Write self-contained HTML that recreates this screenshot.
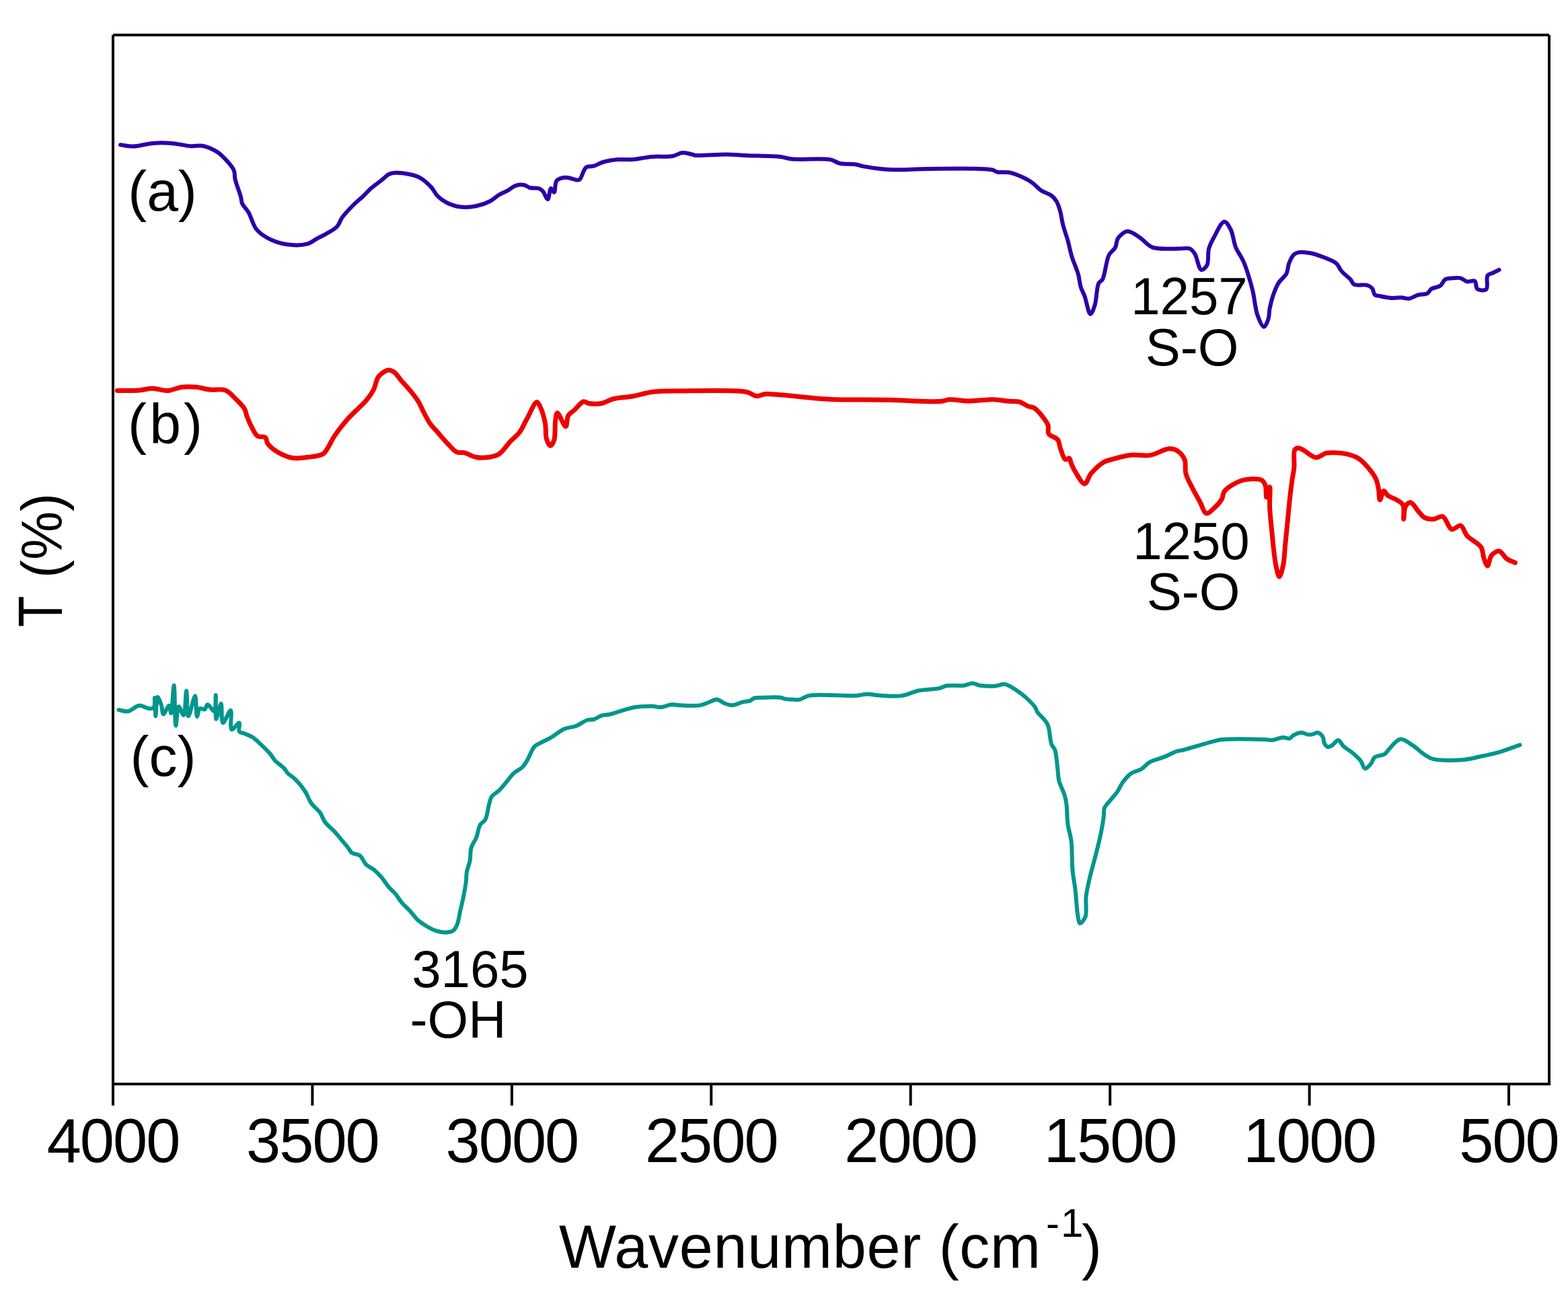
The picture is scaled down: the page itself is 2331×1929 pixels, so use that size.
<!DOCTYPE html>
<html><head><meta charset="utf-8"><title>FTIR spectra</title>
<style>html,body{margin:0;padding:0;background:#fff;overflow:hidden;width:2331px;height:1929px;} svg{display:block;} text{font-family:"Liberation Sans", Arial, sans-serif;fill:#000;}</style>
</head><body>
<svg width="2331" height="1929" viewBox="0 0 2331 1929">
<rect width="2331" height="1929" fill="#fff"/>
<path d="M179.0,215.3 C185.4,216.1 191.1,217.8 198.1,217.6 C206.7,217.4 217.1,213.7 226.7,212.9 C236.2,212.1 245.7,212.2 255.2,212.9 C264.8,213.6 275.5,216.7 283.8,217.2 C290.2,217.6 295.1,215.6 301.0,216.7 C307.8,217.9 316.5,222.0 321.9,225.2 C325.9,227.6 328.0,229.5 331.4,232.9 C336.3,237.8 344.8,246.5 347.6,252.9 C349.6,257.5 348.3,261.1 349.5,266.2 C351.2,273.6 356.4,286.2 358.1,292.9 C359.1,296.8 358.6,299.1 360.0,302.4 C361.8,306.7 366.4,310.4 369.5,315.7 C373.5,322.5 375.8,334.0 381.0,340.5 C385.6,346.3 391.3,350.2 398.1,353.8 C406.1,358.1 416.9,361.9 426.7,363.3 C436.6,364.7 448.9,364.7 457.1,362.4 C463.3,360.7 467.6,356.3 472.4,353.8 C476.5,351.7 479.7,350.5 483.8,348.1 C489.0,345.1 496.8,341.2 501.0,336.7 C504.7,332.8 505.3,327.9 508.6,323.3 C512.6,317.7 519.7,310.4 524.0,306.0 C526.8,303.1 528.8,301.3 531.4,299.0 C534.1,296.5 537.0,294.3 540.0,291.5 C543.6,288.1 547.1,283.8 551.4,280.0 C556.4,275.6 563.7,270.6 568.6,266.7 C572.3,263.8 574.7,260.6 578.1,259.0 C581.1,257.5 583.8,257.0 587.6,256.8 C593.2,256.5 602.2,257.7 608.6,259.0 C614.1,260.2 618.8,261.1 623.8,263.8 C629.7,267.0 636.4,273.1 641.0,278.1 C645.0,282.4 646.7,287.6 650.5,291.4 C654.3,295.2 658.6,298.4 663.8,301.0 C669.8,304.0 677.6,306.7 684.8,307.6 C692.2,308.5 700.3,307.8 707.6,306.3 C714.8,304.9 722.6,302.1 728.6,299.0 C733.8,296.3 737.4,292.2 741.9,289.5 C746.2,286.9 751.0,285.2 755.2,282.9 C759.2,280.7 762.5,277.1 766.7,275.8 C770.8,274.5 776.3,274.4 780.0,275.2 C783.0,275.8 784.6,278.2 787.6,279.0 C791.4,280.0 797.6,278.8 801.0,280.0 C803.4,280.8 804.9,281.9 806.7,283.8 C809.4,286.6 812.3,296.5 814.3,296.2 C816.5,295.9 816.9,280.4 819.0,280.0 C820.4,279.7 822.5,286.0 823.8,285.7 C825.8,285.2 824.4,272.2 827.6,268.6 C830.5,265.3 836.2,264.1 841.0,263.8 C846.3,263.5 854.4,267.6 858.1,267.6 C859.8,267.6 860.6,267.7 861.9,266.7 C864.9,264.4 867.1,251.7 871.4,248.6 C874.6,246.3 879.0,247.8 882.9,246.7 C887.2,245.4 891.1,242.5 896.2,241.0 C902.7,239.1 911.5,237.7 919.0,237.1 C926.1,236.5 932.5,237.6 940.0,237.1 C948.8,236.5 958.8,233.8 968.6,232.9 C978.8,232.0 991.7,233.5 1000.0,232.0 C1005.8,231.0 1009.5,227.5 1014.3,227.1 C1019.0,226.7 1024.9,228.6 1028.6,229.4 C1030.9,229.9 1031.5,230.6 1034.3,230.9 C1042.2,231.8 1066.5,229.3 1080.0,229.4 C1090.6,229.5 1097.7,230.4 1108.6,230.9 C1123.2,231.6 1147.5,231.4 1160.0,232.9 C1167.2,233.8 1169.6,235.5 1177.0,236.3 C1190.4,237.7 1221.7,234.6 1234.3,237.1 C1240.8,238.4 1243.2,241.7 1248.6,242.9 C1255.2,244.4 1265.1,243.4 1271.4,244.3 C1275.9,245.0 1278.1,246.2 1282.9,247.1 C1290.8,248.6 1304.1,250.5 1314.3,251.4 C1324.0,252.2 1334.6,252.4 1342.9,252.3 C1349.3,252.2 1351.8,251.6 1360.0,251.4 C1381.2,250.9 1458.0,249.1 1474.3,252.3 C1478.9,253.2 1479.5,255.0 1482.9,255.7 C1487.6,256.7 1494.4,255.3 1500.0,256.3 C1505.8,257.3 1511.5,259.5 1517.1,261.9 C1522.9,264.4 1529.1,267.8 1534.3,271.4 C1539.2,274.8 1542.8,279.7 1547.6,282.9 C1552.3,286.1 1558.9,287.5 1562.9,290.5 C1566.2,293.0 1568.4,295.5 1570.5,299.0 C1573.0,303.2 1574.7,308.9 1576.2,314.3 C1577.9,320.2 1578.3,326.6 1580.0,333.3 C1582.0,341.1 1585.3,350.0 1587.6,358.1 C1589.8,365.9 1590.9,373.1 1593.3,381.0 C1595.9,389.6 1600.6,399.4 1602.9,407.6 C1604.8,414.4 1604.9,421.0 1606.7,426.7 C1608.2,431.6 1610.4,434.7 1612.4,440.0 C1615.1,447.3 1618.0,466.5 1621.0,466.7 C1623.2,466.9 1625.8,458.9 1627.6,453.3 C1630.3,445.0 1630.1,427.2 1633.3,421.0 C1634.9,417.9 1637.2,418.3 1639.0,415.2 C1642.8,408.5 1644.3,387.4 1648.6,379.0 C1651.3,373.7 1655.9,371.8 1658.1,367.6 C1660.2,363.5 1659.3,358.1 1661.9,354.3 C1664.7,350.1 1670.9,344.6 1675.2,343.8 C1678.5,343.2 1681.6,345.2 1684.8,346.7 C1688.6,348.5 1692.1,351.3 1696.2,354.3 C1701.4,358.0 1705.9,364.8 1713.3,367.6 C1723.4,371.3 1743.1,369.3 1753.3,369.5 C1759.6,369.6 1764.6,367.9 1768.6,369.5 C1771.9,370.9 1773.9,373.5 1776.2,377.1 C1779.8,382.6 1781.8,399.9 1785.7,401.0 C1788.2,401.7 1792.3,397.8 1794.3,394.3 C1797.3,389.0 1795.1,376.9 1797.1,369.5 C1798.9,363.1 1801.5,358.4 1804.8,352.4 C1808.8,345.2 1815.4,329.7 1820.0,329.5 C1823.4,329.3 1826.9,336.0 1829.5,341.0 C1833.1,347.8 1833.7,359.4 1837.1,367.6 C1840.2,375.2 1845.0,380.2 1848.6,388.6 C1853.5,400.0 1858.4,416.8 1861.9,430.5 C1865.2,443.4 1865.8,458.6 1869.5,468.6 C1872.1,475.7 1876.1,485.7 1879.0,485.7 C1881.4,485.7 1884.3,477.8 1885.7,473.3 C1887.2,468.6 1886.5,463.5 1887.6,458.1 C1888.9,451.6 1891.0,443.7 1893.3,437.1 C1895.5,431.0 1897.7,425.1 1901.0,420.0 C1904.2,415.0 1909.9,411.6 1912.4,406.7 C1914.8,402.0 1914.3,396.2 1916.2,391.4 C1918.1,386.7 1920.7,380.8 1923.8,378.1 C1926.0,376.1 1928.3,375.4 1931.4,374.9 C1935.9,374.2 1942.5,375.0 1948.6,376.2 C1955.7,377.6 1964.6,381.0 1971.4,383.8 C1977.1,386.2 1982.8,388.0 1986.7,391.4 C1990.2,394.5 1991.1,399.2 1994.3,402.9 C1997.9,407.2 2004.2,411.4 2007.6,415.2 C2010.1,417.9 2010.3,421.3 2013.3,422.9 C2017.5,425.1 2027.6,422.3 2032.4,423.8 C2035.7,424.8 2038.1,426.3 2040.0,428.6 C2042.0,431.0 2041.7,436.2 2043.8,438.1 C2045.7,439.7 2048.3,439.4 2051.4,440.0 C2056.0,441.0 2063.0,442.5 2068.6,442.9 C2073.8,443.2 2079.2,442.1 2083.8,442.3 C2087.6,442.5 2090.6,444.2 2094.3,443.8 C2098.8,443.3 2103.8,439.4 2108.6,438.1 C2113.0,436.9 2118.6,438.0 2121.9,436.2 C2124.6,434.7 2125.0,431.3 2127.6,429.5 C2130.9,427.2 2137.4,427.3 2141.0,424.8 C2144.3,422.4 2145.4,417.1 2148.6,415.2 C2151.7,413.3 2156.2,413.6 2160.0,413.3 C2163.8,413.0 2167.9,412.4 2171.4,413.3 C2174.9,414.2 2177.5,417.8 2181.0,418.5 C2184.5,419.3 2189.9,416.0 2192.4,417.7 C2195.0,419.5 2193.5,427.4 2196.2,429.5 C2199.0,431.6 2206.8,432.3 2209.5,429.9 C2212.8,427.0 2208.8,413.4 2211.4,409.5 C2213.1,407.0 2216.3,407.0 2219.0,405.7 C2222.0,404.2 2225.4,402.6 2228.6,401.0" fill="none" stroke="#2d00a8" stroke-width="6" stroke-linejoin="round" stroke-linecap="round"/>
<path d="M174.3,580.5 C185.4,580.3 198.1,580.7 207.6,579.9 C214.9,579.3 220.1,577.2 226.7,577.2 C234.0,577.2 242.1,580.9 249.5,580.5 C256.7,580.1 263.5,576.2 270.5,575.3 C277.4,574.5 284.5,574.7 291.4,575.3 C298.4,575.9 305.2,578.3 312.4,579.1 C319.8,579.9 328.9,577.5 335.2,579.9 C340.7,582.0 344.2,586.7 348.6,591.0 C353.7,595.9 360.9,602.9 363.8,608.1 C365.7,611.5 365.4,614.1 366.7,617.6 C368.4,622.1 370.7,627.9 373.3,632.9 C376.0,638.1 378.8,645.4 382.9,648.1 C386.2,650.3 391.8,648.0 394.3,650.0 C396.7,651.9 395.9,656.4 398.1,659.5 C401.0,663.5 406.1,667.7 411.4,671.0 C417.7,674.9 426.5,679.1 434.3,680.5 C441.8,681.8 449.5,680.4 457.1,679.5 C464.8,678.6 474.8,678.0 480.0,674.8 C483.8,672.5 485.1,669.0 487.6,665.2 C490.8,660.4 493.0,654.3 497.1,648.1 C502.5,640.0 510.4,630.1 518.1,621.4 C526.2,612.3 538.2,602.7 544.8,594.8 C549.4,589.2 552.3,585.1 555.2,579.5 C558.4,573.4 558.9,564.5 562.9,559.5 C566.5,555.0 572.8,550.6 577.1,550.0 C580.2,549.6 582.9,551.0 585.7,552.9 C589.6,555.5 593.1,561.6 597.1,566.2 C601.4,571.1 606.3,576.2 610.5,581.4 C614.6,586.4 618.7,591.5 621.9,596.7 C624.9,601.6 626.8,606.7 629.5,611.9 C632.4,617.5 635.4,623.8 639.0,629.0 C642.4,633.9 646.4,637.7 650.5,642.4 C655.2,647.8 660.7,654.4 665.7,659.5 C670.2,664.1 674.4,669.8 679.0,671.9 C682.7,673.5 686.4,671.9 690.5,672.9 C695.7,674.1 701.6,678.4 707.6,679.5 C713.7,680.6 720.8,680.4 726.7,679.5 C732.1,678.7 737.1,677.9 741.9,674.8 C748.0,670.9 753.6,661.4 759.0,655.7 C763.7,650.8 768.4,647.7 772.4,642.4 C776.8,636.5 779.7,628.6 783.8,621.4 C788.2,613.7 794.5,597.7 798.1,597.6 C800.1,597.5 801.4,601.2 802.9,604.3 C805.6,609.8 808.9,620.8 810.5,629.0 C812.0,636.7 810.6,645.9 812.4,651.9 C813.7,656.2 816.1,662.3 818.1,662.4 C819.9,662.5 822.5,657.7 823.8,653.8 C826.0,647.2 824.5,632.5 825.7,625.2 C826.4,620.5 826.8,614.1 828.6,613.8 C831.1,613.4 838.3,634.2 841.0,633.8 C843.3,633.4 842.3,621.9 844.8,617.6 C847.0,613.9 850.9,612.1 854.3,609.0 C858.4,605.3 863.6,597.5 867.6,596.7 C870.3,596.2 872.0,598.9 875.2,599.5 C880.1,600.4 888.2,600.6 894.3,599.5 C900.3,598.4 904.9,594.6 911.4,592.9 C919.6,590.8 930.3,590.7 940.0,589.0 C950.3,587.2 959.7,583.7 971.4,582.3 C985.8,580.6 1002.2,581.2 1020.0,580.9 C1041.5,580.6 1074.9,580.1 1091.4,580.9 C1100.1,581.3 1105.6,581.4 1111.4,582.9 C1116.3,584.2 1119.9,588.2 1124.3,588.6 C1128.5,589.0 1132.5,586.1 1137.1,585.7 C1142.4,585.2 1146.8,585.8 1154.3,586.3 C1168.7,587.2 1201.3,591.1 1217.1,592.3 C1226.6,593.0 1230.0,593.4 1240.0,593.7 C1258.6,594.3 1295.6,593.7 1320.0,594.3 C1340.6,594.8 1362.3,596.4 1377.1,596.6 C1386.4,596.7 1393.7,597.0 1400.0,596.3 C1404.5,595.8 1406.7,594.0 1411.4,593.7 C1418.7,593.2 1429.8,595.9 1440.0,596.0 C1451.6,596.1 1466.2,593.4 1477.1,593.7 C1485.7,593.9 1493.1,595.7 1500.0,596.3 C1505.6,596.8 1510.4,595.8 1515.2,597.1 C1519.9,598.4 1524.5,602.1 1528.6,603.8 C1532.0,605.1 1534.9,604.6 1538.1,606.7 C1543.0,609.8 1549.8,618.9 1553.3,623.8 C1555.6,627.0 1557.1,629.2 1558.1,632.4 C1559.2,636.1 1557.0,641.4 1559.0,644.8 C1561.3,648.6 1569.5,649.6 1572.4,653.3 C1575.0,656.7 1574.6,661.3 1576.2,665.7 C1578.2,671.0 1580.7,681.5 1583.8,682.9 C1585.5,683.7 1588.1,680.3 1589.5,681.0 C1591.1,681.8 1591.2,685.7 1592.4,688.6 C1594.1,692.5 1596.1,697.3 1599.0,701.9 C1602.5,707.4 1608.4,719.2 1612.4,719.0 C1616.0,718.8 1617.8,708.7 1621.9,703.8 C1626.9,697.9 1635.1,690.1 1641.0,686.7 C1645.0,684.4 1647.7,684.2 1652.4,682.9 C1659.7,680.8 1671.4,677.2 1681.0,676.2 C1690.4,675.2 1700.1,678.1 1709.5,676.6 C1719.2,675.0 1730.7,667.0 1738.1,666.7 C1742.7,666.5 1746.0,667.4 1749.5,669.5 C1753.8,672.1 1758.7,677.5 1761.0,682.9 C1763.5,688.8 1761.1,697.0 1762.9,703.8 C1764.8,711.0 1768.9,717.9 1772.4,724.8 C1775.9,731.8 1780.2,739.1 1783.8,745.7 C1787.1,751.7 1789.4,761.9 1793.3,762.9 C1796.6,763.7 1801.2,758.4 1804.8,755.2 C1808.9,751.6 1813.6,746.4 1816.2,741.9 C1818.3,738.2 1817.7,733.8 1820.0,730.5 C1822.5,726.8 1827.0,723.7 1831.4,721.0 C1836.4,717.9 1842.1,714.7 1848.6,713.3 C1856.4,711.6 1869.9,710.6 1875.2,713.3 C1878.4,714.9 1879.7,717.7 1881.0,721.0 C1882.8,725.6 1881.7,738.9 1882.9,739.0 C1884.0,739.1 1886.7,723.7 1887.6,723.8 C1888.9,724.0 1887.1,743.3 1887.6,754.3 C1888.2,767.2 1890.3,785.0 1891.4,796.2 C1892.1,803.8 1892.5,808.3 1893.3,815.2 C1894.3,823.4 1895.4,834.3 1897.1,841.9 C1898.4,847.7 1900.2,857.1 1901.9,857.1 C1903.7,857.1 1906.2,846.5 1907.6,840.0 C1909.4,831.8 1909.5,821.6 1910.5,811.4 C1911.7,799.6 1913.0,786.0 1914.3,773.3 C1915.6,760.6 1916.8,746.3 1918.1,735.2 C1919.1,726.6 1920.0,719.5 1921.0,712.4 C1921.9,706.3 1923.2,701.6 1923.8,695.2 C1924.6,687.3 1922.3,672.8 1924.8,668.6 C1925.9,666.7 1927.7,665.9 1929.5,665.7 C1931.7,665.5 1934.1,667.1 1937.1,668.6 C1942.1,671.0 1950.1,679.6 1956.2,680.0 C1961.5,680.3 1966.4,674.5 1971.4,673.3 C1975.9,672.3 1980.0,672.6 1984.8,672.8 C1990.6,673.1 1997.9,673.7 2003.8,675.2 C2009.2,676.6 2014.3,678.1 2019.0,681.0 C2023.9,684.0 2028.2,688.5 2032.4,693.3 C2037.2,698.7 2042.9,706.1 2045.7,712.4 C2048.0,717.5 2048.5,722.5 2049.5,727.6 C2050.4,732.7 2050.1,742.7 2051.4,742.9 C2052.7,743.1 2054.9,729.8 2057.1,729.5 C2058.8,729.2 2060.3,734.2 2062.9,736.2 C2066.2,738.8 2072.3,740.4 2076.2,742.9 C2079.8,745.2 2083.8,746.8 2085.7,750.5 C2088.2,755.4 2086.0,771.4 2086.7,771.4 C2087.3,771.4 2087.0,756.6 2089.5,752.4 C2091.3,749.4 2094.4,746.4 2097.1,746.7 C2100.7,747.1 2104.9,756.0 2108.6,760.0 C2111.9,763.5 2114.3,767.6 2118.1,769.5 C2121.9,771.4 2127.0,771.7 2131.4,771.4 C2135.9,771.1 2140.8,766.2 2144.8,767.6 C2150.0,769.5 2153.0,785.2 2158.1,786.7 C2162.1,787.9 2167.7,779.9 2171.4,781.0 C2175.5,782.3 2176.7,791.3 2181.0,796.2 C2186.3,802.2 2197.9,807.0 2201.9,813.3 C2204.9,818.1 2204.0,823.8 2205.7,828.6 C2207.3,833.0 2209.6,841.1 2211.4,841.0 C2213.4,840.9 2214.0,829.4 2217.1,825.7 C2219.9,822.3 2225.0,818.5 2228.6,819.0 C2232.6,819.5 2235.8,827.6 2240.0,830.5 C2243.8,833.2 2248.3,834.3 2252.4,836.2" fill="none" stroke="#ee0000" stroke-width="7" stroke-linejoin="round" stroke-linecap="round"/>
<path d="M176.4,1055.0 C180.9,1055.7 185.3,1057.8 190.0,1057.1 C195.5,1056.2 201.6,1049.1 207.1,1048.6 C212.0,1048.2 217.4,1052.7 221.4,1052.9 C224.2,1053.0 227.1,1053.1 228.6,1051.4 C230.8,1049.0 229.6,1037.1 230.0,1037.1 C230.6,1037.1 230.7,1064.3 231.4,1064.3 C232.1,1064.3 232.3,1036.0 234.3,1035.7 C235.7,1035.5 238.6,1044.2 240.0,1048.6 C241.4,1052.8 241.1,1061.1 242.9,1061.4 C244.8,1061.7 249.5,1048.3 251.4,1048.6 C253.1,1048.9 253.4,1060.1 254.3,1060.0 C256.0,1059.9 257.5,1018.6 258.6,1018.6 C260.0,1018.6 259.8,1078.5 261.4,1078.6 C262.5,1078.7 263.1,1050.5 265.7,1050.0 C267.5,1049.7 271.1,1063.3 272.9,1062.9 C275.8,1062.3 275.9,1026.4 277.1,1026.4 C278.3,1026.4 277.6,1064.0 280.0,1064.3 C282.2,1064.6 287.9,1034.1 290.0,1034.3 C292.1,1034.5 291.2,1064.8 292.9,1065.0 C294.0,1065.1 294.7,1054.3 297.1,1052.9 C298.9,1051.9 302.4,1055.1 304.3,1054.3 C306.3,1053.4 306.7,1047.3 308.6,1047.1 C311.1,1046.8 316.5,1057.9 318.6,1057.1 C321.4,1056.1 320.2,1032.9 320.7,1032.9 C321.3,1032.9 319.7,1068.4 321.4,1068.6 C322.8,1068.8 326.9,1045.5 328.6,1045.7 C330.4,1045.9 328.6,1073.7 331.4,1074.3 C333.8,1074.9 340.7,1055.1 342.9,1055.7 C345.5,1056.4 341.1,1082.9 344.3,1084.3 C346.6,1085.3 353.9,1073.5 355.7,1074.3 C357.4,1075.1 354.0,1084.5 355.7,1087.1 C357.0,1089.1 360.2,1088.8 362.9,1090.0 C366.6,1091.6 371.6,1093.1 375.7,1095.7 C380.2,1098.6 384.4,1103.1 388.6,1107.1 C392.9,1111.2 397.8,1115.8 401.4,1120.0 C404.4,1123.6 405.9,1127.1 409.0,1130.5 C412.7,1134.4 419.0,1138.3 422.4,1141.9 C424.9,1144.5 425.9,1147.3 428.1,1149.5 C430.3,1151.7 433.1,1152.9 435.7,1155.2 C438.8,1157.9 442.2,1161.2 445.2,1164.8 C448.6,1168.8 452.0,1173.4 454.8,1178.1 C457.7,1182.9 459.1,1188.5 462.4,1193.3 C465.9,1198.4 472.1,1202.6 475.7,1207.6 C479.0,1212.2 480.0,1217.5 483.3,1221.9 C486.9,1226.7 492.5,1230.7 496.7,1235.2 C500.8,1239.6 504.5,1244.3 508.1,1248.6 C511.4,1252.5 514.9,1256.6 517.6,1260.0 C519.8,1262.8 520.7,1265.7 523.3,1267.6 C526.2,1269.7 531.5,1268.9 534.8,1271.4 C538.7,1274.3 540.6,1281.2 544.3,1284.8 C547.7,1288.1 552.0,1289.4 555.7,1292.4 C559.7,1295.7 563.4,1299.6 567.1,1303.8 C571.1,1308.4 574.8,1314.6 578.6,1319.0 C581.8,1322.7 585.1,1325.0 588.1,1328.6 C591.4,1332.6 594.1,1337.8 597.6,1341.9 C601.1,1346.0 605.3,1349.3 609.0,1353.3 C612.9,1357.5 616.3,1362.8 620.5,1366.7 C624.6,1370.4 629.3,1373.5 633.8,1376.2 C638.1,1378.8 642.4,1381.3 647.1,1382.9 C651.9,1384.5 657.7,1385.8 662.4,1385.7 C666.5,1385.6 670.9,1384.9 673.8,1382.9 C676.5,1381.0 677.9,1378.0 679.5,1374.3 C681.8,1369.0 682.7,1360.3 684.3,1353.3 C685.9,1346.3 687.6,1339.5 689.0,1332.4 C690.5,1325.0 692.1,1316.1 692.9,1309.5 C693.5,1304.5 693.0,1300.9 693.8,1296.2 C694.7,1290.8 697.5,1284.9 698.6,1279.0 C699.8,1272.9 698.8,1265.8 700.5,1260.0 C702.1,1254.5 705.9,1250.3 708.1,1244.8 C710.4,1238.9 711.0,1230.4 713.8,1225.7 C715.9,1222.3 719.4,1221.7 721.4,1218.1 C724.4,1212.8 725.2,1201.5 727.1,1195.2 C728.4,1190.7 728.7,1187.2 731.0,1183.8 C733.6,1180.1 738.7,1177.9 742.4,1174.3 C746.4,1170.4 750.2,1165.3 753.8,1161.0 C757.1,1157.0 759.6,1152.9 763.3,1149.5 C767.2,1145.9 773.1,1143.6 776.7,1140.0 C779.9,1136.7 782.1,1132.8 784.3,1129.0 C786.5,1125.2 788.1,1120.5 790.0,1117.0 C791.6,1114.0 792.8,1111.1 795.0,1109.0 C797.1,1106.9 799.8,1106.0 802.9,1104.3 C807.1,1102.0 812.7,1099.8 818.1,1096.7 C824.6,1093.0 832.1,1086.3 839.0,1083.3 C844.8,1080.8 850.6,1081.1 856.2,1079.0 C862.0,1076.8 868.3,1071.5 873.3,1070.0 C876.8,1068.9 879.7,1069.9 882.9,1069.0 C886.6,1067.9 890.4,1064.5 894.3,1063.3 C898.0,1062.2 901.5,1062.7 905.7,1061.8 C910.9,1060.7 916.9,1058.4 922.9,1056.7 C929.5,1054.8 936.3,1052.2 943.8,1051.0 C952.1,1049.7 963.5,1049.4 970.5,1049.6 C975.1,1049.8 977.7,1051.2 981.9,1051.0 C987.0,1050.7 994.1,1047.4 999.0,1047.1 C1002.6,1046.9 1004.4,1047.9 1008.6,1048.1 C1016.2,1048.5 1033.0,1049.4 1041.0,1048.1 C1045.9,1047.3 1048.5,1045.7 1052.4,1044.3 C1056.7,1042.8 1061.5,1039.3 1065.7,1039.5 C1069.7,1039.7 1073.2,1043.8 1077.1,1045.2 C1080.9,1046.6 1084.5,1048.2 1088.6,1048.1 C1093.3,1048.0 1099.1,1044.4 1103.8,1043.3 C1107.8,1042.3 1112.1,1042.6 1115.2,1041.4 C1117.6,1040.5 1118.5,1038.4 1121.0,1037.6 C1124.8,1036.4 1130.5,1036.9 1136.2,1036.7 C1143.5,1036.5 1155.7,1035.8 1161.0,1036.7 C1163.6,1037.1 1164.4,1038.1 1166.7,1038.6 C1170.0,1039.3 1175.2,1039.4 1179.0,1039.6 C1182.4,1039.7 1185.2,1040.3 1188.6,1039.6 C1192.8,1038.7 1197.2,1035.0 1201.9,1033.9 C1206.7,1032.7 1210.4,1033.0 1217.1,1032.8 C1230.1,1032.4 1261.4,1034.6 1274.3,1033.7 C1281.0,1033.2 1284.4,1031.5 1289.5,1031.4 C1294.6,1031.3 1298.6,1032.9 1304.8,1033.3 C1314.3,1034.0 1330.2,1035.4 1341.0,1033.9 C1350.1,1032.6 1356.9,1028.1 1365.7,1026.3 C1375.2,1024.3 1388.6,1024.6 1396.2,1022.9 C1401.0,1021.8 1403.0,1019.8 1407.6,1019.0 C1414.2,1017.9 1425.4,1019.5 1432.4,1018.7 C1437.6,1018.1 1441.4,1015.5 1445.7,1015.6 C1449.7,1015.7 1452.6,1018.0 1457.1,1018.7 C1463.4,1019.6 1473.7,1020.0 1480.0,1019.4 C1484.5,1019.0 1488.6,1017.0 1491.4,1016.8 C1493.0,1016.7 1493.5,1016.6 1495.2,1017.1 C1499.0,1018.2 1507.2,1023.2 1512.4,1026.7 C1517.3,1029.9 1521.4,1033.2 1525.7,1037.1 C1530.3,1041.3 1536.3,1047.3 1539.0,1051.4 C1540.7,1053.9 1540.4,1055.5 1542.1,1058.1 C1545.1,1062.8 1553.7,1068.9 1557.2,1076.2 C1561.2,1084.6 1560.6,1099.7 1563.3,1106.4 C1564.8,1110.1 1567.0,1110.8 1568.3,1114.5 C1570.6,1120.9 1571.2,1134.3 1572.3,1142.7 C1573.2,1149.4 1572.9,1154.7 1574.4,1160.8 C1576.1,1167.4 1580.5,1174.7 1582.4,1180.9 C1583.9,1185.9 1584.6,1189.4 1585.4,1195.0 C1586.5,1203.1 1586.1,1215.7 1587.4,1225.2 C1588.6,1233.8 1591.3,1240.1 1592.5,1249.4 C1594.1,1261.9 1593.3,1280.6 1594.5,1293.7 C1595.5,1304.2 1597.3,1311.7 1598.5,1321.9 C1600.0,1334.1 1600.7,1353.2 1602.5,1362.1 C1603.4,1366.6 1603.9,1371.9 1605.6,1372.2 C1607.5,1372.6 1611.9,1366.7 1613.6,1362.1 C1616.2,1355.0 1613.4,1341.9 1614.6,1331.9 C1615.8,1321.8 1618.4,1311.7 1620.7,1301.7 C1623.1,1291.6 1626.1,1281.9 1628.7,1271.5 C1631.5,1260.5 1634.7,1247.7 1636.8,1237.3 C1638.6,1228.6 1640.0,1219.8 1640.8,1213.1 C1641.4,1208.4 1640.3,1204.8 1641.8,1201.0 C1643.4,1196.7 1647.8,1193.0 1650.9,1189.0 C1654.1,1184.9 1657.9,1181.2 1660.9,1176.9 C1663.9,1172.5 1665.7,1167.2 1669.0,1162.8 C1672.4,1158.1 1676.4,1153.1 1681.1,1149.7 C1685.8,1146.4 1692.4,1145.7 1697.2,1142.7 C1701.7,1139.9 1704.3,1135.4 1709.2,1132.6 C1715.2,1129.1 1724.4,1127.4 1731.4,1124.6 C1737.8,1122.0 1744.3,1118.2 1749.5,1116.5 C1753.3,1115.3 1755.7,1115.5 1759.6,1114.5 C1765.0,1113.2 1772.0,1110.8 1778.6,1108.9 C1785.9,1106.8 1794.8,1104.1 1801.7,1102.4 C1807.3,1101.0 1810.2,1099.8 1817.1,1099.1 C1831.1,1097.6 1869.2,1098.6 1881.4,1099.1 C1886.3,1099.3 1888.0,1100.2 1891.7,1099.9 C1896.3,1099.5 1902.5,1096.3 1907.1,1096.0 C1910.9,1095.8 1914.7,1098.1 1917.4,1097.3 C1919.6,1096.6 1920.3,1094.2 1922.6,1092.9 C1925.8,1091.1 1931.7,1088.8 1935.4,1088.8 C1938.3,1088.8 1940.5,1091.0 1943.1,1091.4 C1945.7,1091.8 1948.3,1091.8 1950.9,1091.4 C1953.5,1091.0 1956.1,1088.4 1958.6,1088.8 C1961.3,1089.2 1964.6,1092.1 1966.3,1094.7 C1968.1,1097.4 1967.4,1102.3 1968.9,1105.0 C1970.2,1107.2 1972.1,1109.7 1974.0,1110.1 C1975.9,1110.5 1978.2,1108.9 1980.4,1107.6 C1983.3,1105.9 1986.6,1099.7 1989.4,1099.9 C1992.2,1100.1 1993.9,1105.9 1997.1,1108.9 C2001.2,1112.7 2008.1,1116.5 2012.6,1120.4 C2016.5,1123.8 2020.1,1126.9 2022.9,1130.7 C2025.6,1134.3 2026.6,1141.8 2029.3,1142.3 C2031.8,1142.8 2035.9,1137.5 2038.3,1134.6 C2040.5,1131.9 2040.6,1127.9 2043.4,1125.6 C2046.9,1122.7 2054.8,1123.1 2058.8,1120.4 C2062.2,1118.1 2063.4,1114.5 2066.6,1111.4 C2070.7,1107.3 2076.4,1099.2 2082.0,1098.6 C2087.6,1098.0 2094.2,1103.9 2100.0,1107.6 C2106.2,1111.5 2112.3,1118.1 2118.0,1121.7 C2122.5,1124.5 2125.1,1126.7 2130.9,1128.1 C2141.4,1130.6 2164.0,1130.1 2177.1,1128.9 C2187.0,1128.0 2194.3,1125.6 2202.9,1123.8 C2211.5,1122.0 2219.7,1120.5 2228.6,1117.9 C2238.5,1115.0 2249.1,1110.7 2259.4,1107.1" fill="none" stroke="#00968c" stroke-width="6" stroke-linejoin="round" stroke-linecap="round"/>
<path d="M168,52 V1613 M168,52 H2303 M2303,52 V1613 M166,1611 H2305" stroke="#000" stroke-width="4" fill="none"/>
<line x1="168.0" y1="1611" x2="168.0" y2="1643" stroke="#000" stroke-width="4"/>
<line x1="464.4" y1="1611" x2="464.4" y2="1643" stroke="#000" stroke-width="4"/>
<line x1="760.9" y1="1611" x2="760.9" y2="1643" stroke="#000" stroke-width="4"/>
<line x1="1057.3" y1="1611" x2="1057.3" y2="1643" stroke="#000" stroke-width="4"/>
<line x1="1353.7" y1="1611" x2="1353.7" y2="1643" stroke="#000" stroke-width="4"/>
<line x1="1650.2" y1="1611" x2="1650.2" y2="1643" stroke="#000" stroke-width="4"/>
<line x1="1946.6" y1="1611" x2="1946.6" y2="1643" stroke="#000" stroke-width="4"/>
<line x1="2243.0" y1="1611" x2="2243.0" y2="1643" stroke="#000" stroke-width="4"/>
<text x="168.0" y="1727" font-size="92" text-anchor="middle" letter-spacing="-2">4000</text>
<text x="464.4" y="1727" font-size="92" text-anchor="middle" letter-spacing="-2">3500</text>
<text x="760.9" y="1727" font-size="92" text-anchor="middle" letter-spacing="-2">3000</text>
<text x="1057.3" y="1727" font-size="92" text-anchor="middle" letter-spacing="-2">2500</text>
<text x="1353.7" y="1727" font-size="92" text-anchor="middle" letter-spacing="-2">2000</text>
<text x="1650.2" y="1727" font-size="92" text-anchor="middle" letter-spacing="-2">1500</text>
<text x="1946.6" y="1727" font-size="92" text-anchor="middle" letter-spacing="-2">1000</text>
<text x="2243.0" y="1727" font-size="92" text-anchor="middle" letter-spacing="-2">500</text>
<text x="831" y="1884" font-size="90" textLength="716" lengthAdjust="spacing">Wavenumber (cm</text>
<text x="1555" y="1838" font-size="60">-</text>
<text x="1577" y="1838" font-size="60">1</text>
<text x="1608" y="1884" font-size="90">)</text>
<text transform="translate(92,932) rotate(-90)" font-size="92" textLength="46.5" lengthAdjust="spacingAndGlyphs">T</text>
<text transform="translate(92,859) rotate(-90)" font-size="85" textLength="126" lengthAdjust="spacingAndGlyphs">(%)</text>
<text x="241.5" y="313" font-size="84" text-anchor="middle">(a)</text>
<text x="245.5" y="659" font-size="84" text-anchor="middle" textLength="111" lengthAdjust="spacing">(b)</text>
<text x="242.5" y="1153" font-size="84" text-anchor="middle">(c)</text>
<text x="1768" y="467" font-size="78" text-anchor="middle">1257</text>
<text x="1772" y="543" font-size="78" text-anchor="middle">S-O</text>
<text x="1771" y="831" font-size="78" text-anchor="middle">1250</text>
<text x="1774" y="906" font-size="78" text-anchor="middle">S-O</text>
<text x="699" y="1467" font-size="78" text-anchor="middle">3165</text>
<text x="681" y="1542" font-size="78" text-anchor="middle">-OH</text>
</svg>
</body></html>
